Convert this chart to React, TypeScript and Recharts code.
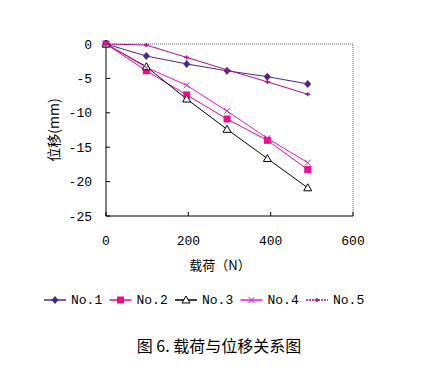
import { LineChart, Line, XAxis, YAxis, ReferenceLine } from "recharts";

const loads = [0, 98, 196, 294, 392, 490];
const no1 = [0, -1.75, -2.9, -3.9, -4.75, -5.8];
const no2 = [0, -3.9, -7.4, -10.9, -14.0, -18.25];
const no3 = [0, -3.3, -8.0, -12.4, -16.65, -20.9];
const no4 = [0, -3.4, -6.0, -9.75, -13.7, -17.25];
const no5 = [0, -0.15, -1.95, -3.75, -5.5, -7.3];
const xTicks = [0, 200, 400, 600];
const yTicks = [0, -5, -10, -15, -20, -25];

const data = loads.map((load, i) => ({
  load,
  no1: no1[i],
  no2: no2[i],
  no3: no3[i],
  no4: no4[i],
  no5: no5[i],
}));

const series = [
  { key: "no1", name: "No.1", color: "#46288a", shape: "diamond" },
  { key: "no2", name: "No.2", color: "#ec0c8c", shape: "square" },
  { key: "no3", name: "No.3", color: "#000000", shape: "triangle" },
  { key: "no4", name: "No.4", color: "#ff10c8", shape: "x" },
  { key: "no5", name: "No.5", color: "#b0108a", shape: "bar" },
];

const mono = "'Liberation Mono', 'DejaVu Sans Mono', monospace";
const cjk = "'Noto Sans CJK SC', sans-serif";

function Marker({ cx, cy, shape, color }: any) {
  if (cx == null || cy == null) return null;
  if (shape === "diamond")
    return <path d={`M${cx},${cy - 4}L${cx + 3.5},${cy}L${cx},${cy + 4}L${cx - 3.5},${cy}Z`} fill={color} />;
  if (shape === "square") return <rect x={cx - 3.5} y={cy - 3.5} width={7} height={7} fill={color} />;
  if (shape === "triangle")
    return <path d={`M${cx},${cy - 4}L${cx + 4},${cy + 3}L${cx - 4},${cy + 3}Z`} fill="#fff" stroke={color} strokeWidth={1} />;
  if (shape === "x")
    return (
      <g stroke={color} strokeWidth={1}>
        <line x1={cx - 3} y1={cy - 3} x2={cx + 3} y2={cy + 3} />
        <line x1={cx - 3} y1={cy + 3} x2={cx + 3} y2={cy - 3} />
      </g>
    );
  return (
    <g stroke={color} strokeWidth={1.5}>
      <line x1={cx - 2.5} y1={cy} x2={cx + 2.5} y2={cy} />
      <line x1={cx} y1={cy - 2} x2={cx} y2={cy + 2} />
    </g>
  );
}

export default function App() {
  return (
    <div style={{ position: "absolute", left: 0, top: 0, width: 422, height: 376, background: "#fff" }}>
      <LineChart width={422} height={376} data={data} margin={{ top: 44, right: 69, bottom: 130, left: 46 }}>
        <XAxis
          dataKey="load"
          type="number"
          domain={[0, 600]}
          ticks={xTicks}
          stroke="#000"
          tickSize={-4}
          tickMargin={24}
          tick={{ fill: "#000", fontSize: 13, fontFamily: mono }}
          height={30}
        />
        <YAxis
          type="number"
          domain={[-25, 0]}
          ticks={yTicks}
          stroke="#000"
          tickSize={-4}
          tickMargin={18}
          tick={{ fill: "#000", fontSize: 13, fontFamily: mono }}
          width={60}
        />
        <ReferenceLine y={0} stroke="#5a5a9a" strokeDasharray="1 1" />
        <ReferenceLine x={600} stroke="#5a5a9a" strokeDasharray="1 1" />
        {series.map((s) => (
          <Line
            key={s.key}
            dataKey={s.key}
            name={s.name}
            stroke={s.color}
            strokeWidth={1}
            isAnimationActive={false}
            dot={(p: any) => <Marker key={p.index} cx={p.cx} cy={p.cy} shape={s.shape} color={s.color} />}
          />
        ))}
      </LineChart>
      <svg style={{ position: "absolute", left: 0, top: 0 }} width={422} height={376}>
        <text x={53} y={130} transform="rotate(-90 53 130)" textAnchor="middle" dominantBaseline="central" fontSize={14} fontFamily={cjk}>
          位移(mm)
        </text>
        <text x={220} y={264} textAnchor="middle" dominantBaseline="central" fontSize={13} fontFamily={cjk}>
          载荷（N）
        </text>
        {series.map((s, i) => {
          const x0 = 44 + i * 65.5;
          return (
            <g key={s.key}>
              <line x1={x0} y1={300} x2={x0 + 22} y2={300} stroke={s.color} strokeWidth={1.5} strokeDasharray={s.shape === "bar" ? "2 1" : undefined} />
              <Marker cx={x0 + 11} cy={300} shape={s.shape} color={s.color} />
              <text x={x0 + 27} y={300} dominantBaseline="central" fontSize={13} fontFamily={mono}>
                {s.name}
              </text>
            </g>
          );
        })}
        <text x={219} y={345} textAnchor="middle" dominantBaseline="central" fontSize={16} fontFamily={cjk}>
          图 6. 载荷与位移关系图
        </text>
      </svg>
    </div>
  );
}
